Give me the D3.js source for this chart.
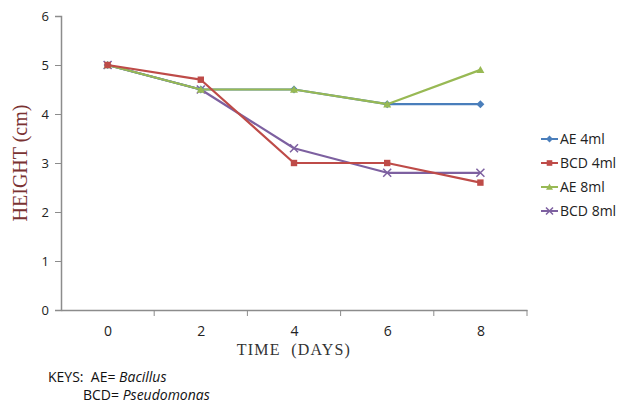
<!DOCTYPE html>
<html><head><meta charset="utf-8">
<script src="https://cdn.jsdelivr.net/npm/d3@7"></script>
<style>
body{margin:0;background:#fff;}
svg{display:block;}
</style></head>
<body>
<svg id="chart" width="633" height="405"></svg>
<script>
const days = ["0","2","4","6","8"];
const yTicks = [0,1,2,3,4,5,6];
const seriesNames = ["AE 4ml","BCD 4ml","AE 8ml","BCD 8ml"];
const ae4 = [5,4.5,4.5,4.2,4.2];
const bcd4 = [5,4.7,3.0,3.0,2.6];
const ae8 = [5,4.5,4.5,4.2,4.9];
const bcd8 = [5,4.5,3.3,2.8,2.8];
const colors = ["#4A7EBB","#BE4B48","#98B954","#7D60A0"];
const markers = ["diamond","square","triangle","x"];
const drawOrder = [3,0,2,1];

const svg = d3.select("#chart");
const L=61, R=527, T=16, B=310;
const xBand = d3.scaleBand().domain(days).range([L,R]);
const x = d3.scalePoint().domain(days).range([L,R]).padding(0.5);
const y = d3.scaleLinear().domain([0,6]).range([B,T]);
const axisColor="#8c8c8c";

// y axis
const ya = svg.append("g").attr("transform",`translate(${L},0)`)
  .call(d3.axisLeft(y).tickValues(yTicks).tickSize(6).tickPadding(6).tickFormat(d3.format("d")));
ya.select(".domain").attr("stroke",axisColor).attr("stroke-width",1.5);
ya.selectAll(".tick line").attr("stroke",axisColor).attr("stroke-width",1);
ya.selectAll("text").attr("font-family","Open Sans, sans-serif").attr("font-size",13).attr("fill","#222");

// x axis
const xa = svg.append("g").attr("transform",`translate(0,${B})`)
  .call(d3.axisBottom(x).tickSize(0).tickPadding(16));
xa.select(".domain").attr("stroke",axisColor).attr("stroke-width",1.5);
xa.selectAll("text").attr("font-family","Open Sans, sans-serif").attr("font-size",14).attr("fill","#222");
xa.selectAll(".bt").data(days.slice(1).concat(["end"])).enter().append("line")
  .attr("x1",(d,i)=> i<days.length-1 ? xBand(d) : R)
  .attr("x2",(d,i)=> i<days.length-1 ? xBand(d) : R)
  .attr("y1",0).attr("y2",6).attr("stroke",axisColor).attr("stroke-width",1);

// axis titles
svg.append("text").attr("transform",`translate(27,${163}) rotate(-90)`)
  .attr("text-anchor","middle").attr("font-family","Liberation Serif, serif")
  .attr("font-size",20).attr("fill","#7a3232").text("HEIGHT (cm)");
svg.append("text").attr("x",(L+R)/2).attr("y",355).attr("text-anchor","middle")
  .attr("font-family","Liberation Serif, serif").attr("font-size",16)
  .attr("letter-spacing","1.2px").attr("fill","#333").style("white-space","pre").text("TIME  (DAYS)");

const allSeries=[ae4,bcd4,ae8,bcd8];
const line = d3.line().x((d,i)=>x(days[i])).y(d=>y(d));

function drawMarker(g, type, cx, cy, color, s){
  if(type==="diamond"){
    g.append("path").attr("d",`M${cx},${cy-s}L${cx+s},${cy}L${cx},${cy+s}L${cx-s},${cy}Z`).attr("fill",color);
  } else if(type==="square"){
    g.append("rect").attr("x",cx-s*0.8).attr("y",cy-s*0.8).attr("width",s*1.6).attr("height",s*1.6).attr("fill",color);
  } else if(type==="triangle"){
    g.append("path").attr("d",`M${cx},${cy-s}L${cx+s},${cy+s*0.8}L${cx-s},${cy+s*0.8}Z`).attr("fill",color);
  } else {
    g.append("path").attr("d",`M${cx-s},${cy-s}L${cx+s},${cy+s}M${cx-s},${cy+s}L${cx+s},${cy-s}`)
      .attr("stroke",color).attr("stroke-width",1.5).attr("fill","none");
  }
}

drawOrder.forEach(k=>{
  const g=svg.append("g");
  g.append("path").datum(allSeries[k]).attr("d",line).attr("fill","none")
    .attr("stroke",colors[k]).attr("stroke-width",2.2).attr("stroke-linejoin","round");
  allSeries[k].forEach((v,i)=>drawMarker(g,markers[k],x(days[i]),y(v),colors[k],4));
});

// legend
const leg = svg.append("g");
seriesNames.forEach((n,i)=>{
  const cy = 139 + i*24;
  leg.append("line").attr("x1",541).attr("x2",558).attr("y1",cy).attr("y2",cy)
    .attr("stroke",colors[i]).attr("stroke-width",2);
  drawMarker(leg,markers[i],549.5,cy,colors[i],3.5);
  leg.append("text").attr("x",560).attr("y",cy).attr("dy","0.35em")
    .attr("font-family","Open Sans, sans-serif").attr("font-size",14).attr("fill","#222").text(n);
});

// keys
const keys = svg.append("g").attr("font-family","Open Sans, sans-serif").attr("font-size",14).attr("fill","#111");
const k1 = keys.append("text").attr("x",48).attr("y",382).style("white-space","pre");
k1.append("tspan").text("KEYS:  AE= ");
k1.append("tspan").attr("font-style","italic").text("Bacillus");
const k2 = keys.append("text").attr("x",83).attr("y",400).style("white-space","pre");
k2.append("tspan").text("BCD= ");
k2.append("tspan").attr("font-style","italic").text("Pseudomonas");
</script>
</body></html>
